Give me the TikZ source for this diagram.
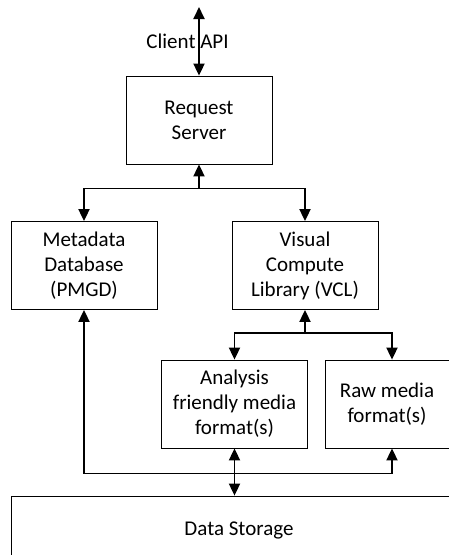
\documentclass[tikz,border=0pt]{standalone}
\usepackage{fontspec}
\setmainfont{Carlito}
\usepackage{tikz}
\usetikzlibrary{arrows.meta,positioning,calc}

\begin{document}
\begin{tikzpicture}[x=1pt, y=1pt, >={Triangle[length=12pt,width=11pt]}, semithick, node distance=145.5pt]
	\tikzstyle{box}=[draw=black,line width=0.8pt,fill=white,text=black,align=center,inner sep=0pt,minimum width=146pt,minimum height=88pt,font=\fontsize{21}{25}\selectfont]
	\tikzstyle{conn}=[line width=1.8pt]
	\useasboundingbox (0,0) rectangle (449,-555);
	
	\node[box]    (RS) at (199,-120)   {Request\\Server};
	\node[box]    (MD)[below of=RS, xshift=-115pt]   {Metadata\\Database\\(PMGD)};
	\node[box]    (VCL)[below of=RS, xshift=106pt]   {Visual\\Compute\\Library (VCL)};
	
	\node[box]    (AF)[below of=VCL, node distance=138.5pt, xshift=-70.5pt]   {Analysis\\friendly media\\format(s)};
	\node[box, minimum width=124pt]    (RAW)[right of=AF, node distance=152.5pt]   {Raw media\\format(s)};
	
	\node[box, minimum width=456pt, minimum height=68pt]    (DS) at (239,-530)   {Data Storage};
	
	\coordinate (API) at (199,-7);
	\coordinate (J1) at ($(RS.south)+(0,-24)$);
	\coordinate (J2) at ($(VCL.south)+(0,-23)$);
	\coordinate (J3) at ($(AF.south)+(0,-25)$);
	
	\draw[conn,<->] (API) -- (RS.north) node[midway, xshift=-11.5pt, font=\fontsize{21}{25}\selectfont] (APIL) {Client API};
	
	\draw[conn,->] (J1) -- (RS.south);
	\draw[conn,<->] (MD.north) |- (J1) -| (VCL.north);
	
	\draw[conn,->] (J2) -- (VCL.south);
	\draw[conn,<->] (AF.north) |- (J2) -| ([xshift=5pt]RAW.north);
	
	\draw[conn,<->] (MD.south) |- (J3) -| ([xshift=5pt]RAW.south);
	\draw[conn,<->] (AF.south) -- (AF.south |- DS.north);
	
\end{tikzpicture}
\end{document}
